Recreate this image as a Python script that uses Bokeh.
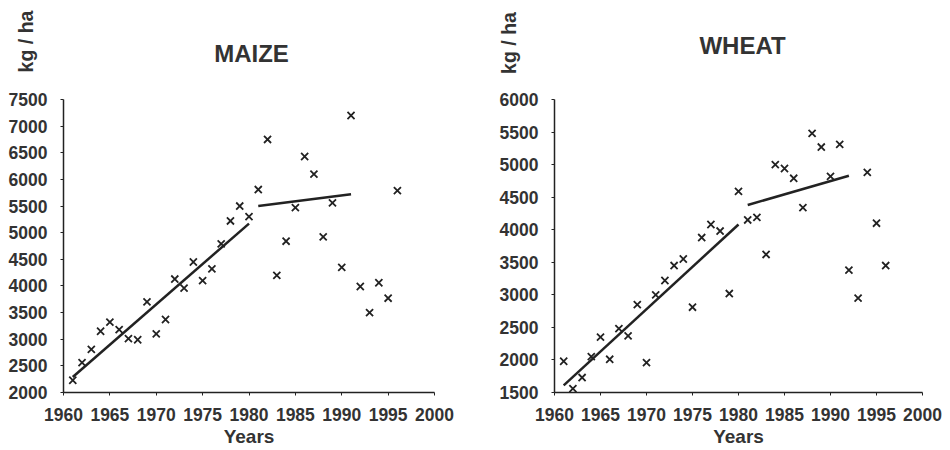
import math
from bokeh.plotting import figure
from bokeh.layouts import row, column
from bokeh.models import Range1d, FixedTicker, Label
from bokeh.embed import file_html
from bokeh.resources import INLINE

# ---- data ----
years = list(range(1961, 1997))
maize_yield = [2230, 2560, 2810, 3150, 3320, 3180, 3010, 2990, 3700, 3100,
               3370, 4130, 3960, 4450, 4100, 4320, 4790, 5220, 5500, 5300,
               5810, 6750, 4200, 4840, 5470, 6430, 6100, 4920, 5560, 4350,
               7200, 3990, 3500, 4060, 3770, 5790]
wheat_yield = [1980, 1560, 1730, 2050, 2350, 2010, 2480, 2370, 2850, 1960,
               3000, 3220, 3450, 3550, 2810, 3880, 4080, 3980, 3020, 4590,
               4150, 4190, 3620, 5000, 4940, 4790, 4340, 5480, 5270, 4820,
               5310, 3380, 2950, 4880, 4100, 3450]

maize_trend1_x = [1961, 1980]
maize_trend1_y = [2290, 5170]
maize_trend2_x = [1981, 1991]
maize_trend2_y = [5500, 5720]
wheat_trend1_x = [1961, 1980]
wheat_trend1_y = [1610, 4080]
wheat_trend2_x = [1981, 1992]
wheat_trend2_y = [4380, 4830]

year_ticks = [1960, 1965, 1970, 1975, 1980, 1985, 1990, 1995, 2000]
maize_ticks = [2000, 2500, 3000, 3500, 4000, 4500, 5000, 5500, 6000, 6500, 7000, 7500]
wheat_ticks = [1500, 2000, 2500, 3000, 3500, 4000, 4500, 5000, 5500, 6000]

titles = ["MAIZE", "WHEAT"]
unit_label = "kg / ha"
x_label = "Years"

FONT = "Liberation Sans"
TXT = "#333333"
INK = "#222222"
TOP_H = 90


def make_panel(yvals, trends, yticks, ymin, ymax, borders):
    bl, br, bt, bb = borders
    p = figure(width=475, height=450 - TOP_H, output_backend="svg", toolbar_location=None,
               x_range=Range1d(1960, 2000), y_range=Range1d(ymin, ymax),
               min_border_left=bl, min_border_right=br, min_border_top=bt,
               min_border_bottom=bb)
    p.outline_line_color = None
    p.xgrid.visible = False
    p.ygrid.visible = False

    for ax, ticks in ((p.xaxis, year_ticks), (p.yaxis, yticks)):
        ax.ticker = FixedTicker(ticks=ticks)
        ax.major_tick_out = 3
        ax.major_tick_in = 0
        ax.minor_tick_line_color = None
        ax.axis_line_color = INK
        ax.axis_line_width = 1.5
        ax.major_tick_line_color = INK
        ax.major_label_text_font = FONT
        ax.major_label_text_font_style = "bold"
        ax.major_label_text_font_size = "17.5px"
        ax.major_label_text_color = TXT
    p.xaxis.major_label_standoff = 12
    p.yaxis.major_label_standoff = 13
    p.xaxis.axis_label = x_label
    p.xaxis.axis_label_text_font = FONT
    p.xaxis.axis_label_text_font_style = "bold"
    p.xaxis.axis_label_text_font_size = "19px"
    p.xaxis.axis_label_text_color = TXT
    p.xaxis.axis_label_standoff = 2

    for tx, ty in trends:
        p.line(tx, ty, line_color=INK, line_width=2.5)
    p.scatter(years, yvals, marker="x", size=10, line_width=1.8, line_color=INK)
    return p


# header strip holding the titles and the unit labels
top = figure(width=950, height=TOP_H, output_backend="svg", toolbar_location=None,
             x_range=Range1d(0, 950), y_range=Range1d(0, TOP_H),
             x_axis_location=None, y_axis_location=None, min_border=0)
top.outline_line_color = None
top.grid.visible = False

common = dict(text_font=FONT, text_font_style="bold", text_color=TXT,
              text_align="center", text_baseline="middle")
top.add_layout(Label(x=251, y=TOP_H - 53, text=titles[0], text_font_size="24px", **common))
top.add_layout(Label(x=742, y=TOP_H - 44.5, text=titles[1], text_font_size="24px", **common))
top.add_layout(Label(x=25, y=TOP_H - 41, text=unit_label, angle=math.pi / 2,
                     text_font_size="19.5px", **common))
top.add_layout(Label(x=508, y=TOP_H - 42.5, text=unit_label, angle=math.pi / 2,
                     text_font_size="19.5px", **common))

maize = make_panel(maize_yield,
                   [(maize_trend1_x, maize_trend1_y), (maize_trend2_x, maize_trend2_y)],
                   maize_ticks, 2000, 7500, (63, 41, 98 - TOP_H, 58))
wheat = make_panel(wheat_yield,
                   [(wheat_trend1_x, wheat_trend1_y), (wheat_trend2_x, wheat_trend2_y)],
                   wheat_ticks, 1500, 6000, (79, 28, 99 - TOP_H, 57))

layout = column(top, row(maize, wheat))
open("out.html", "w").write(file_html(layout, INLINE))
